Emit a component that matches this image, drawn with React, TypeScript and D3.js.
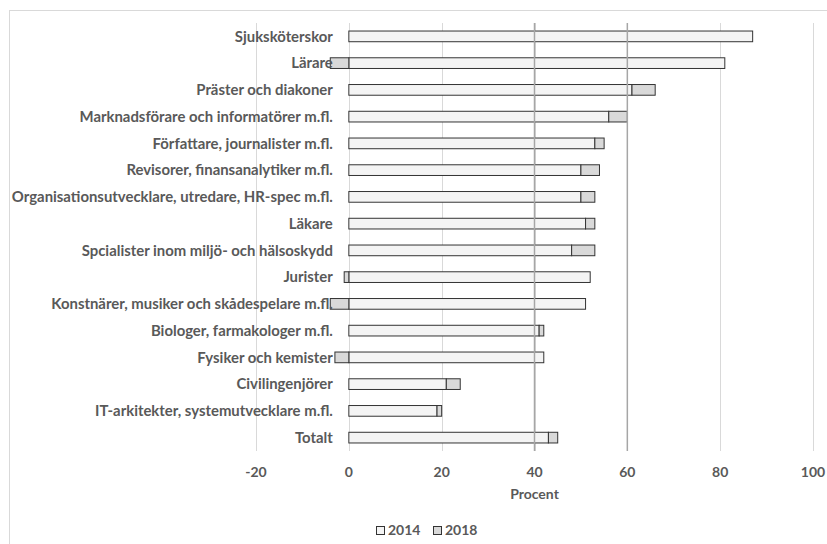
import React, { useRef, useEffect } from "react";
import * as d3 from "d3";

const categories: string[] = [
  "Sjuksköterskor",
  "Lärare",
  "Präster och diakoner",
  "Marknadsförare och informatörer m.fl.",
  "Författare, journalister m.fl.",
  "Revisorer, finansanalytiker m.fl.",
  "Organisationsutvecklare, utredare, HR-spec m.fl.",
  "Läkare",
  "Spcialister inom miljö- och hälsoskydd",
  "Jurister",
  "Konstnärer, musiker och skådespelare m.fl.",
  "Biologer, farmakologer m.fl.",
  "Fysiker och kemister",
  "Civilingenjörer",
  "IT-arkitekter, systemutvecklare m.fl.",
  "Totalt",
];

// 2014 level and the change up to 2018 (stacked on top)
const values2014: number[] = [87, 81, 61, 56, 53, 50, 50, 51, 48, 52, 51, 41, 42, 21, 19, 43];
const values2018: number[] = [0, -4, 5, 4, 2, 4, 3, 2, 5, -1, -4, 1, -3, 3, 1, 2];

const xTicks: number[] = [-20, 0, 20, 40, 60, 80, 100];
const refLines: number[] = [40, 60];
const seriesNames: string[] = ["2014", "2018"];

const WIDTH = 827;
const HEIGHT = 544;
const TEXT = "#595959";
const FONT = "Lato, 'Open Sans', sans-serif";

function drawChart(svgEl: SVGSVGElement) {
  const margin = { top: 23, right: 14, bottom: 93, left: 256 };
  const plotW = WIDTH - margin.left - margin.right;
  const plotH = HEIGHT - margin.top - margin.bottom;

  const svg = d3.select(svgEl);
  svg.selectAll("*").remove();

  // chart area border
  svg
    .append("rect")
    .attr("x", 9.5)
    .attr("y", 10.5)
    .attr("width", WIDTH)
    .attr("height", HEIGHT)
    .attr("fill", "white")
    .attr("stroke", "#d9d9d9");

  const g = svg.append("g").attr("transform", `translate(${margin.left},${margin.top})`);

  const x = d3.scaleLinear().domain([-20, 100]).range([0, plotW]);
  const y = d3
    .scaleBand<string>()
    .domain(categories)
    .range([0, plotH])
    .paddingInner(0.6)
    .paddingOuter(0.3);

  // gridlines
  g.selectAll(".grid")
    .data(xTicks)
    .enter()
    .append("line")
    .attr("x1", (d) => Math.round(x(d)) + 0.5)
    .attr("x2", (d) => Math.round(x(d)) + 0.5)
    .attr("y1", 0)
    .attr("y2", plotH)
    .attr("stroke", "#d9d9d9")
    .attr("stroke-width", 1);

  const fills = ["#f4f4f4", "#d9d9d9"];

  categories.forEach((c, i) => {
    const v1 = values2014[i];
    const v2 = values2018[i];
    const by = y(c) as number;
    const bh = y.bandwidth();
    // 2014
    g.append("rect")
      .attr("x", x(Math.min(0, v1)))
      .attr("y", by)
      .attr("width", Math.abs(x(v1) - x(0)))
      .attr("height", bh)
      .attr("fill", fills[0])
      .attr("stroke", "#333")
      .attr("stroke-width", 1);
    // 2018 change, stacked: positive after 2014, negative left of zero
    if (v2 !== 0) {
      const start = v2 > 0 ? v1 : 0;
      const end = start + v2;
      g.append("rect")
        .attr("x", x(Math.min(start, end)))
        .attr("y", by)
        .attr("width", Math.abs(x(end) - x(start)))
        .attr("height", bh)
        .attr("fill", fills[1])
        .attr("stroke", "#333")
        .attr("stroke-width", 1);
    }
  });

  // reference lines at 40 and 60
  g.selectAll(".ref")
    .data(refLines)
    .enter()
    .append("line")
    .attr("x1", (d) => x(d))
    .attr("x2", (d) => x(d))
    .attr("y1", 0)
    .attr("y2", plotH)
    .attr("stroke", "#a6a6a6")
    .attr("stroke-width", 1.5);

  // category labels
  g.selectAll(".cat")
    .data(categories)
    .enter()
    .append("text")
    .attr("x", x(0) - 16)
    .attr("y", (d) => (y(d) as number) + y.bandwidth() / 2)
    .attr("dy", "0.35em")
    .attr("text-anchor", "end")
    .attr("font-family", FONT)
    .attr("font-weight", 700)
    .attr("font-size", 14.9)
    .attr("fill", TEXT)
    .text((d) => d);

  // x tick labels
  g.selectAll(".tick")
    .data(xTicks)
    .enter()
    .append("text")
    .attr("x", (d) => x(d))
    .attr("y", plotH + 21)
    .attr("dy", "0.35em")
    .attr("text-anchor", "middle")
    .attr("font-family", FONT)
    .attr("font-weight", 700)
    .attr("font-size", 14)
    .attr("fill", TEXT)
    .text((d) => d);

  g.append("text")
    .attr("x", plotW / 2)
    .attr("y", plotH + 43)
    .attr("dy", "0.35em")
    .attr("text-anchor", "middle")
    .attr("font-family", FONT)
    .attr("font-weight", 700)
    .attr("font-size", 14)
    .attr("fill", TEXT)
    .text("Procent");

  // legend
  const legend = svg.append("g").attr("transform", "translate(376,530)");
  const legendX = [0, 57];
  seriesNames.forEach((name, i) => {
    const lg = legend.append("g").attr("transform", `translate(${legendX[i]},0)`);
    lg.append("rect")
      .attr("x", 0.5)
      .attr("y", -3.5)
      .attr("width", 8)
      .attr("height", 8)
      .attr("fill", fills[i])
      .attr("stroke", "#333");
    lg.append("text")
      .attr("x", 12)
      .attr("y", 0)
      .attr("dy", "0.35em")
      .attr("font-family", FONT)
      .attr("font-weight", 700)
      .attr("font-size", 14)
      .attr("fill", TEXT)
      .text(name);
  });
}

const App: React.FunctionComponent = function () {
  const svgRef = useRef<SVGSVGElement>(null);

  useEffect(() => {
    if (svgRef.current == null) {
      return;
    }
    drawChart(svgRef.current);
  }, []);

  return (
    <svg
      ref={svgRef}
      width={WIDTH}
      height={HEIGHT}
      style={{ position: "absolute", left: 0, top: 0, display: "block", background: "white" }}
    ></svg>
  );
};

export default App;
